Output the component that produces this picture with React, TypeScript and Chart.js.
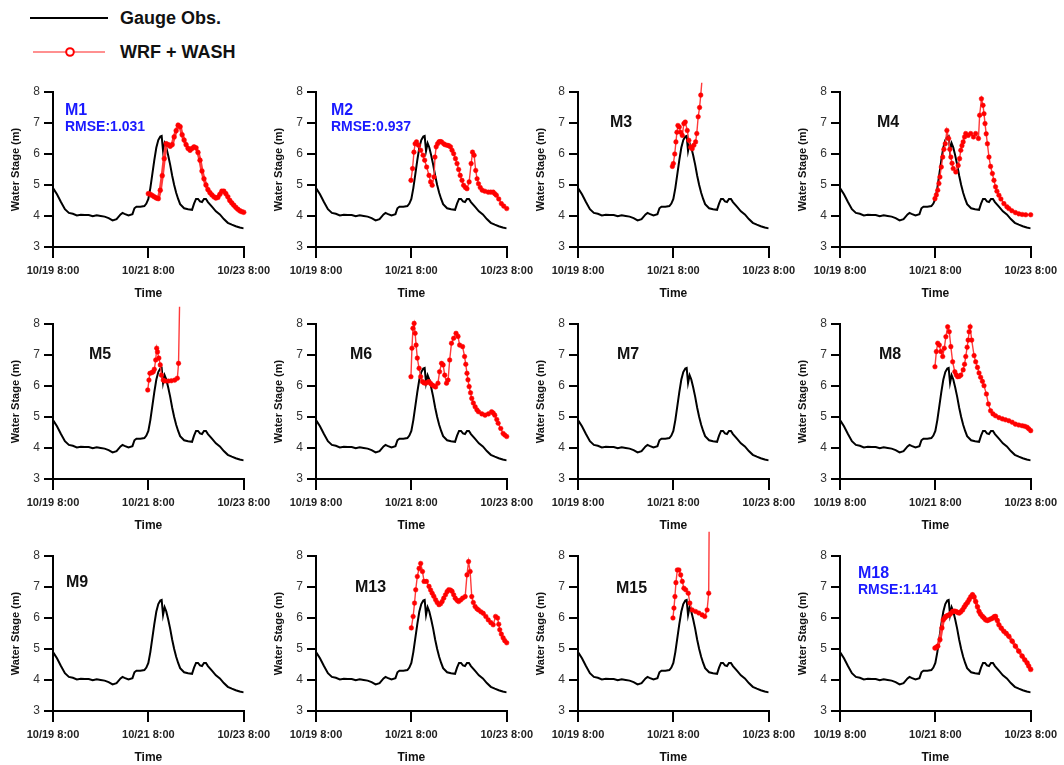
import React, { useEffect, useRef } from 'react';
import { Chart, registerables } from 'chart.js';
Chart.register(...registerables);

const FONT = '"Liberation Sans", Arial, Helvetica, sans-serif';

// ---------- data ----------
const tickLabels = ['10/19 8:00', '10/21 8:00', '10/23 8:00'];

const obsHours = [0, 2, 4, 6, 8, 10, 12, 14, 16, 18, 20, 22, 24, 26, 28, 30, 32, 34, 35, 36, 38, 40, 41, 42, 44, 46, 47, 48, 49, 50, 51, 52, 53, 54, 54.7, 55.4, 56.2, 57, 58, 59, 60, 61, 62, 63, 64, 66, 68, 70, 71, 72, 73, 74, 75, 76, 77, 78, 80, 82, 84, 86, 88, 90, 92, 94, 96];
const obsStage = [4.9, 4.7, 4.45, 4.22, 4.1, 4.07, 4.02, 4.04, 4.03, 4.03, 3.99, 4.02, 4.0, 3.98, 3.93, 3.86, 3.9, 4.05, 4.1, 4.07, 4.02, 4.06, 4.25, 4.3, 4.3, 4.32, 4.4, 4.55, 4.9, 5.35, 5.8, 6.2, 6.45, 6.56, 6.58, 6.1, 6.35, 6.22, 5.95, 5.65, 5.3, 5.0, 4.75, 4.55, 4.38, 4.25, 4.22, 4.2, 4.4, 4.55, 4.55, 4.47, 4.45, 4.55, 4.55, 4.45, 4.3, 4.15, 4.05, 3.9, 3.78, 3.72, 3.67, 3.63, 3.6];

const m1Hours = [48, 49, 50, 51, 52, 53, 54, 55, 56, 57, 58, 59, 60, 61, 62, 63, 64, 65, 66, 67, 68, 69, 70, 71, 72, 73, 74, 75, 76, 77, 78, 79, 80, 81, 82, 83, 84, 85, 86, 87, 88, 89, 90, 91, 92, 93, 94, 95, 96];
const m1Stage = [4.72, 4.7, 4.66, 4.62, 4.58, 4.56, 4.83, 5.3, 5.85, 6.33, 6.3, 6.25, 6.3, 6.55, 6.75, 6.93, 6.88, 6.62, 6.45, 6.3, 6.18, 6.12, 6.18, 6.23, 6.2, 6.05, 5.8, 5.45, 5.2, 5.0, 4.85, 4.75, 4.68, 4.62, 4.58, 4.6, 4.7, 4.8, 4.8, 4.72, 4.62, 4.5, 4.42, 4.35, 4.28, 4.22, 4.17, 4.14, 4.12];

const m2Hours = [47.8, 48.6, 49.3, 49.9, 50.6, 51.6, 52.7, 53.9, 54.7, 55.7, 56.9, 57.7, 58.5, 59.4, 59.9, 60.5, 61.2, 61.9, 62.5, 63.2, 64.3, 65, 66, 66.8, 67.7, 68.5, 69.3, 70.2, 71, 71.8, 72.6, 73.5, 74.3, 75.2, 76, 77.1, 78.1, 78.8, 79.6, 80.4, 81.1, 81.8, 82.7, 83.7, 85, 86.7, 88, 89.2, 90, 90.8, 92, 93.3, 94.5, 96];
const m2Stage = [5.15, 5.53, 6.06, 6.33, 6.39, 6.28, 6.12, 5.96, 5.8, 5.58, 5.31, 5.1, 4.99, 5.26, 5.9, 6.23, 6.33, 6.39, 6.4, 6.39, 6.33, 6.3, 6.28, 6.27, 6.23, 6.12, 6.01, 5.85, 5.69, 5.5, 5.31, 5.15, 4.99, 4.92, 4.88, 5.1, 5.69, 6.06, 5.96, 5.47, 5.2, 5.04, 4.92, 4.83, 4.8, 4.77, 4.77, 4.77, 4.72, 4.67, 4.55, 4.4, 4.32, 4.24];

const m3Hours = [47.5, 48, 48.7, 49.3, 49.8, 50.3, 51, 51.7, 52.5, 53.3, 54, 55, 55.8, 56.7, 57.5, 58.3, 59.2, 59.8, 60.5, 61.2, 61.8, 62.3];
const m3Stage = [5.6, 5.69, 6.0, 6.39, 6.7, 6.92, 6.87, 6.7, 6.6, 6.98, 7.03, 6.76, 6.44, 6.22, 6.17, 6.28, 6.39, 6.66, 7.2, 7.5, 7.9, 8.3];

const m4Hours = [47.8, 48.5, 49.2, 49.8, 50.3, 51, 51.7, 52.3, 53, 53.8, 54.7, 55.3, 55.8, 56.4, 57, 58.3, 59.5, 60.2, 60.8, 61.4, 62, 62.7, 63.3, 64.5, 65.8, 67.2, 68.3, 69.7, 70.3, 71.2, 72, 72.5, 73, 73.6, 74.2, 75, 75.8, 76.7, 77.5, 78.3, 79, 80, 81, 82.5, 84, 85, 86.5, 88.3, 90, 91.7, 93.5, 96];
const m4Stage = [4.56, 4.68, 4.83, 5.05, 5.26, 5.58, 5.9, 6.15, 6.33, 6.76, 6.5, 6.15, 5.9, 5.7, 5.53, 5.42, 5.63, 5.85, 6.12, 6.27, 6.39, 6.55, 6.66, 6.6, 6.66, 6.55, 6.66, 6.5, 7.25, 7.78, 7.57, 7.3, 6.98, 6.65, 6.33, 5.9, 5.6, 5.37, 5.15, 4.94, 4.8, 4.67, 4.55, 4.4, 4.3, 4.24, 4.17, 4.11, 4.07, 4.05, 4.04, 4.04];

const m5Hours = [47.7, 48.3, 48.8, 49.7, 50.5, 51, 51.7, 52.2, 52.6, 53.3, 54, 54.6, 55.5, 56.3, 58, 59.6, 61.3, 62.6, 63.2, 63.7];
const m5Stage = [5.87, 6.19, 6.41, 6.43, 6.46, 6.54, 6.84, 7.22, 7.1, 6.9, 6.68, 6.35, 6.19, 6.16, 6.16, 6.17, 6.19, 6.25, 6.73, 8.56];

const m6Hours = [47.8, 48.3, 48.8, 49.4, 49.9, 50.4, 51, 51.9, 52.7, 53.6, 54.4, 55.2, 56.1, 56.9, 57.7, 58.5, 59.4, 60.2, 61.4, 62.2, 63.2, 64, 64.8, 65.7, 66.5, 67.3, 68.2, 69.3, 70.5, 71.5, 72.3, 73.8, 74.8, 75.4, 76, 76.5, 77.1, 77.8, 78.4, 79.2, 80.1, 81, 81.8, 83.5, 85.1, 86.8, 88.4, 89.2, 90, 91, 91.7, 93, 94.2, 95, 96];
const m6Stage = [6.3, 7.22, 7.86, 8.02, 7.7, 7.32, 6.9, 6.57, 6.3, 6.14, 6.1, 6.09, 6.12, 6.14, 6.08, 6.03, 6.0, 5.97, 6.09, 6.46, 6.73, 6.68, 6.35, 6.09, 6.19, 6.84, 7.38, 7.54, 7.7, 7.6, 7.32, 7.27, 6.95, 6.7, 6.41, 6.2, 5.98, 5.78, 5.6, 5.45, 5.33, 5.23, 5.17, 5.1, 5.06, 5.1, 5.17, 5.13, 5.06, 4.92, 4.8, 4.63, 4.47, 4.42, 4.37];

const m8Hours = [47.8, 48.5, 49.2, 50, 50.8, 51.7, 52.5, 53.3, 54.2, 55, 55.8, 56.7, 57.8, 58.5, 59.2, 60, 60.8, 62, 62.7, 63.3, 64, 64.5, 65, 65.5, 66.3, 67.5, 68.3, 69.2, 70, 70.8, 71.7, 72.5, 73.7, 74.7, 75.8, 77, 78.3, 80, 81.7, 83.3, 85, 86.7, 88.3, 90, 91.7, 93, 94.2, 95, 96];
const m8Stage = [6.62, 7.11, 7.38, 7.32, 7.11, 6.95, 7.22, 7.59, 7.91, 7.75, 7.27, 6.78, 6.46, 6.36, 6.3, 6.31, 6.35, 6.52, 6.7, 6.95, 7.25, 7.48, 7.75, 7.91, 7.48, 6.98, 6.78, 6.6, 6.42, 6.28, 6.15, 6.01, 5.74, 5.42, 5.2, 5.1, 5.04, 4.98, 4.94, 4.91, 4.88, 4.83, 4.77, 4.74, 4.72, 4.7, 4.67, 4.62, 4.56];

const m13Hours = [48, 48.9, 49.6, 50.2, 51, 51.9, 52.7, 53.6, 54.4, 55.6, 56.9, 57.7, 58.5, 59.3, 60.2, 61, 61.9, 62.7, 63.5, 64.3, 65.2, 66, 66.8, 67.7, 68.5, 69.3, 70.1, 71, 71.8, 72.8, 73.8, 75.1, 76, 76.8, 77.6, 78.4, 79.2, 80.1, 81, 81.8, 83, 84.2, 85.5, 86.7, 88, 89.2, 90.4, 91.4, 92, 92.5, 93.3, 94.2, 95, 96];
const m13Stage = [5.68, 6.05, 6.48, 6.91, 7.34, 7.6, 7.76, 7.5, 7.18, 7.18, 7.02, 6.9, 6.8, 6.7, 6.59, 6.5, 6.43, 6.46, 6.53, 6.64, 6.75, 6.85, 6.91, 6.9, 6.86, 6.75, 6.64, 6.57, 6.53, 6.58, 6.64, 6.69, 7.39, 7.82, 7.5, 6.69, 6.5, 6.37, 6.3, 6.26, 6.2, 6.15, 6.05, 5.94, 5.85, 5.78, 6.05, 6.0, 5.8, 5.62, 5.48, 5.36, 5.27, 5.2];

const m15Hours = [47.8, 48.3, 48.8, 49.3, 50, 50.8, 51.7, 52.5, 53.3, 54.2, 55.5, 56.3, 57.5, 59.2, 60.8, 62.5, 63.8, 65, 65.8, 66];
const m15Stage = [6.0, 6.32, 6.69, 7.14, 7.55, 7.55, 7.39, 7.18, 6.96, 6.91, 6.8, 6.48, 6.26, 6.21, 6.16, 6.1, 6.05, 6.26, 6.8, 8.78];

const m18Hours = [47.8, 48.5, 49.2, 50.3, 51.3, 52, 52.7, 53.3, 54.2, 55, 55.8, 56.7, 57.5, 58.3, 59.2, 60, 60.8, 61.7, 62.5, 63.3, 64.2, 65, 65.8, 66.7, 67.5, 68.3, 69.2, 70, 70.8, 71.7, 72.5, 73.3, 74.2, 75, 76, 77, 77.7, 78.3, 79.2, 80, 81.2, 82.5, 83.7, 85, 86.7, 88.3, 90, 91.7, 93, 94.2, 95, 96];
const m18Stage = [5.03, 5.05, 5.09, 5.3, 5.68, 5.94, 6.0, 6.05, 6.08, 6.1, 6.15, 6.21, 6.22, 6.21, 6.18, 6.16, 6.2, 6.26, 6.35, 6.43, 6.5, 6.59, 6.68, 6.75, 6.68, 6.53, 6.36, 6.21, 6.12, 6.05, 6.0, 5.94, 5.92, 5.94, 5.97, 6.0, 6.04, 6.05, 5.92, 5.78, 5.67, 5.57, 5.5, 5.41, 5.25, 5.09, 4.93, 4.77, 4.65, 4.55, 4.45, 4.34];

const stations = ['M1', 'M2', 'M3', 'M4', 'M5', 'M6', 'M7', 'M8', 'M9', 'M13', 'M15', 'M18'];
const rmse = ['1.031', '0.937', null, null, null, null, null, null, null, null, null, '1.141'];
const simHours = [m1Hours, m2Hours, m3Hours, m4Hours, m5Hours, m6Hours, null, m8Hours, null, m13Hours, m15Hours, m18Hours];
const simStage = [m1Stage, m2Stage, m3Stage, m4Stage, m5Stage, m6Stage, null, m8Stage, null, m13Stage, m15Stage, m18Stage];

// ---------- layout ----------
const colLeft = [53, 316, 578, 840];
const rowTop = [92, 324, 556];
const PLOT_W = 193;
const PLOT_H = 155;
const Y_AXIS_W = 50;
const X_AXIS_H = 54;
const PAD_TOP = 30;
const PAD_RIGHT = 30;
const labelDx = [12, 15, 32, 37, 36, 34, 39, 39, 13, 39, 38, 18];
const labelDy = [19, 19, 31, 31, 31, 31, 31, 31, 27, 32, 33, 18];
const thickSim = [true, false, false, false, false, false, false, false, false, false, false, true];

function Panel({ idx }: { idx: number }) {
  const ref = useRef<HTMLCanvasElement | null>(null);
  const col = idx % 4;
  const row = Math.floor(idx / 4);
  const left = colLeft[col] - Y_AXIS_W;
  const top = rowTop[row] - PAD_TOP;
  const width = Y_AXIS_W + PLOT_W + PAD_RIGHT;
  const height = PAD_TOP + PLOT_H + X_AXIS_H;

  useEffect(() => {
    if (!ref.current) return;
    const datasets: any[] = [];
    const sh = simHours[idx];
    const ss = simStage[idx];
    if (sh && ss) {
      const thick = thickSim[idx];
      datasets.push({
        label: 'WRF + WASH',
        data: sh.map((h, i) => ({ x: h, y: ss[i] })),
        borderColor: '#ff3a3a',
        borderWidth: thick ? 3.2 : 1.4,
        pointRadius: thick ? 2.4 : 2.3,
        pointBackgroundColor: '#ff0000',
        pointBorderColor: '#ff0000',
        pointBorderWidth: 0.5,
        clip: false,
        tension: 0,
      });
    }
    datasets.push({
      label: 'Gauge Obs.',
      data: obsHours.map((h, i) => ({ x: h, y: obsStage[i] })),
      borderColor: '#000',
      borderWidth: 2,
      pointRadius: 0,
      tension: 0,
    });

    const name = stations[idx];
    const r = rmse[idx];
    const labelPlugin = {
      id: 'panelLabel' + idx,
      afterDraw(chart: any) {
        const { ctx, chartArea } = chart;
        ctx.save();
        ctx.fillStyle = r ? '#1a1aff' : '#111';
        ctx.textBaseline = 'middle';
        ctx.textAlign = 'left';
        ctx.font = `bold 16px ${FONT}`;
        ctx.fillText(name, chartArea.left + labelDx[idx], chartArea.top + labelDy[idx]);
        if (r) {
          ctx.font = `bold 14px ${FONT}`;
          ctx.fillText('RMSE:' + r, chartArea.left + labelDx[idx], chartArea.top + labelDy[idx] + 16);
        }
        ctx.restore();
      },
    };

    const chart = new Chart(ref.current, {
      type: 'line',
      data: { datasets },
      options: {
        animation: false,
        responsive: false,
        devicePixelRatio: 1,
        layout: { padding: { top: PAD_TOP, right: PAD_RIGHT, left: 0, bottom: 0 } },
        plugins: { legend: { display: false }, tooltip: { enabled: false } },
        scales: {
          x: {
            type: 'linear',
            min: 0,
            max: 96,
            afterFit: (s: any) => { s.height = X_AXIS_H; },
            ticks: {
              stepSize: 48,
              autoSkip: false,
              maxRotation: 0,
              padding: 6,
              color: '#222',
              font: { family: FONT, size: 11, weight: 'bold' },
              callback: (v: any) => tickLabels[Math.round(Number(v) / 48)],
            },
            grid: { drawOnChartArea: false, drawTicks: true, tickLength: 11, color: '#000', lineWidth: 2 },
            border: { display: true, color: '#000', width: 2 },
            title: { display: true, text: 'Time', color: '#111', font: { family: FONT, size: 12, weight: 'bold' }, padding: { top: 0, bottom: 0 } },
          },
          y: {
            type: 'linear',
            min: 3,
            max: 8,
            afterFit: (s: any) => { s.width = Y_AXIS_W; },
            ticks: { stepSize: 1, padding: 4, color: '#333', font: { family: FONT, size: 12 } },
            grid: { drawOnChartArea: false, drawTicks: true, tickLength: 9, color: '#000', lineWidth: 2 },
            border: { display: true, color: '#000', width: 2 },
            title: { display: true, text: 'Water Stage (m)', color: '#111', font: { family: FONT, size: 11, weight: 'bold' }, padding: { top: 6, bottom: 0 } },
          },
        },
      } as any,
      plugins: [labelPlugin],
    });
    return () => chart.destroy();
  }, [idx]);

  return (
    <canvas
      ref={ref}
      width={width}
      height={height}
      style={{ position: 'absolute', left, top, width, height }}
    />
  );
}

function Legend() {
  return (
    <svg width={300} height={70} style={{ position: 'absolute', left: 0, top: 0 }}>
      <line x1={30} y1={18} x2={108} y2={18} stroke="#000" strokeWidth={2} />
      <text x={120} y={18} dominantBaseline="central" fontFamily={FONT} fontWeight="bold" fontSize={18} fill="#111">Gauge Obs.</text>
      <line x1={33} y1={52} x2={105} y2={52} stroke="#ff6b6b" strokeWidth={1.5} />
      <circle cx={70} cy={52} r={3.8} fill="#fff" stroke="#ff0000" strokeWidth={2} />
      <text x={120} y={52} dominantBaseline="central" fontFamily={FONT} fontWeight="bold" fontSize={18} fill="#111">WRF + WASH</text>
    </svg>
  );
}

export default function App() {
  return (
    <div style={{ position: 'absolute', left: 0, top: 0, width: 1064, height: 765, background: '#fff', overflow: 'hidden' }}>
      <Legend />
      {stations.map((_, i) => (
        <Panel key={i} idx={i} />
      ))}
    </div>
  );
}
